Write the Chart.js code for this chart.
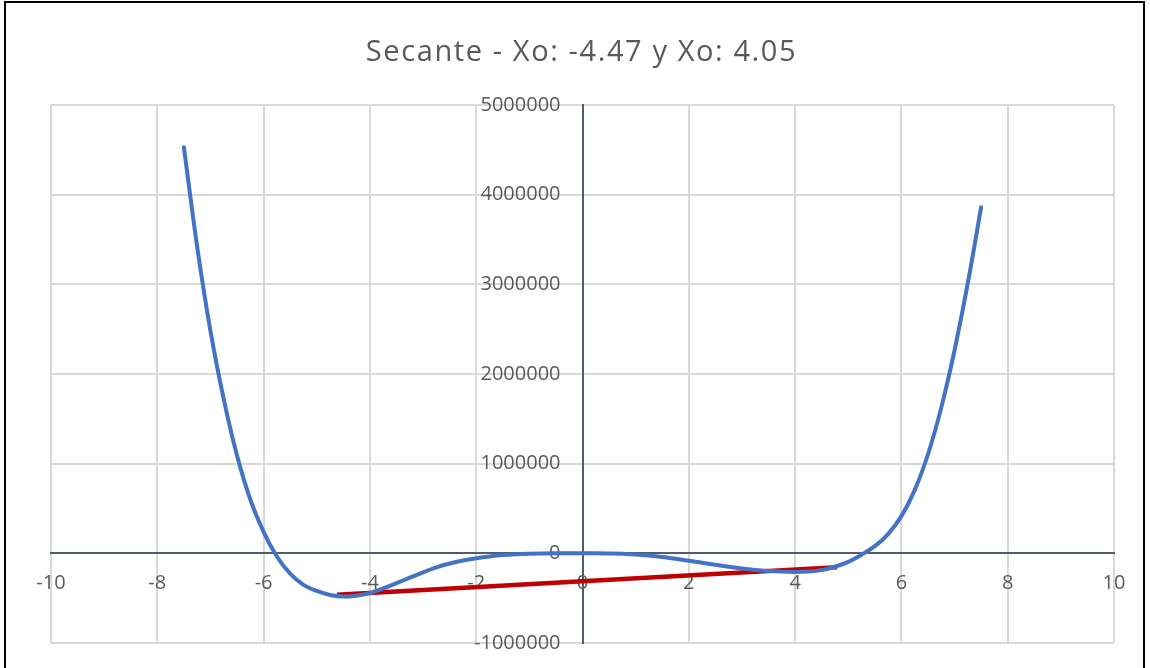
<!DOCTYPE html>
<html>
<head>
<meta charset="utf-8">
<title>Secante</title>
<script src="https://cdn.jsdelivr.net/npm/chart.js@4.4.1/dist/chart.umd.min.js"></script>
<style>
  html, body { margin: 0; padding: 0; background: #ffffff; }
  #wrap { position: relative; width: 1150px; height: 668px; overflow: hidden; background: #ffffff; }
  #frame { position: absolute; left: 4px; top: 1px; width: 1141px; height: 700px; border: 2px solid #000000; box-sizing: border-box; pointer-events: none; }
  canvas { position: absolute; left: 0; top: 0; }
</style>
</head>
<body>
<div id="wrap">
  <canvas id="chart" width="1150" height="668"></canvas>
  <div id="frame"></div>
</div>
<script>
// Function f(x), sampled every 0.25
const curveX = [-7.5, -7.25, -7.0, -6.75, -6.5, -6.25, -6.0, -5.75, -5.5, -5.25, -5.0, -4.75, -4.5, -4.25, -4.0, -3.75, -3.5, -3.25, -3.0, -2.75, -2.5, -2.25, -2.0, -1.75, -1.5, -1.25, -1.0, -0.75, -0.5, -0.25,
  0,
  0.25, 0.5, 0.75, 1.0, 1.25, 1.5, 1.75, 2.0, 2.25, 2.5, 2.75, 3.0, 3.25, 3.5, 3.75, 4.0, 4.25, 4.5, 4.75, 5.0, 5.25, 5.5, 5.75, 6.0, 6.25, 6.5, 6.75, 7.0, 7.25, 7.5];
const curveY = [4530000, 3420000, 2480000, 1720000, 1090000, 600000, 240000, -35000, -227000, -352000, -420000, -465000, -482000, -472000, -443000, -392000, -333000, -272000, -212000, -157000, -113000, -80000, -55000, -35000, -20000, -10000, -4000, -1000, 0, 0,
  0,
  0, -2000, -6000, -12000, -24000, -40000, -60000, -82000, -105000, -128000, -150000, -170000, -186000, -197000, -204000, -207000, -202000, -187000, -150000, -95000, -15000, 80000, 215000, 415000, 705000, 1105000, 1625000, 2265000, 3015000, 3860000];

// Secant line between the two endpoints
const secantX = [-4.62, 4.79];
const secantY = [-462000, -155000];

// Axis ticks
const xTicks = [-10, -8, -6, -4, -2, 0, 2, 4, 6, 8, 10];
const xTickLabels = ['-10', '-8', '-6', '-4', '-2', '0', '2', '4', '6', '8', '10'];
const yTicks = [-1000000, 0, 1000000, 2000000, 3000000, 4000000, 5000000];
const yTickLabels = ['-1000000', '0', '1000000', '2000000', '3000000', '4000000', '5000000'];

const titleText = 'Secante - Xo: -4.47 y Xo: 4.05';

const toPoints = (xs, ys) => xs.map((x, i) => ({ x: x, y: ys[i] }));

const textColor = '#595959';
const gridColor = '#d9d9d9';
const axisColor = '#505c70';
const fontFamily = '"Open Sans", "Noto Sans", sans-serif';

// Chart title, drawn centred above the plot area with a little letter spacing
const titlePlugin = {
  id: 'spacedTitle',
  afterDraw(chart) {
    const ctx = chart.ctx;
    const area = chart.chartArea;
    ctx.save();
    ctx.font = '29px ' + fontFamily;
    ctx.fillStyle = textColor;
    ctx.textAlign = 'center';
    ctx.textBaseline = 'alphabetic';
    if ('letterSpacing' in ctx) ctx.letterSpacing = '1.6px';
    ctx.fillText(titleText, (area.left + area.right) / 2 - 1, area.top - 44);
    ctx.restore();
  }
};

new Chart(document.getElementById('chart'), {
  type: 'scatter',
  data: {
    datasets: [
      {
        label: 'f(x)',
        data: toPoints(curveX, curveY),
        showLine: true,
        borderColor: '#4472c4',
        borderWidth: 4,
        borderCapStyle: 'round',
        borderJoinStyle: 'round',
        pointRadius: 0,
        pointHoverRadius: 0,
        cubicInterpolationMode: 'monotone',
        fill: false
      },
      {
        label: 'Secante',
        data: toPoints(secantX, secantY),
        showLine: true,
        borderColor: '#c00000',
        borderWidth: 4.5,
        pointRadius: 0,
        pointHoverRadius: 0,
        fill: false
      }
    ]
  },
  plugins: [titlePlugin],
  options: {
    responsive: false,
    animation: false,
    devicePixelRatio: 1,
    layout: { padding: { left: 51, right: 36, top: 105, bottom: 25 } },
    plugins: {
      legend: { display: false },
      tooltip: { enabled: false },
      title: { display: false }
    },
    scales: {
      x: {
        type: 'linear',
        min: -10,
        max: 10,
        position: { y: 0 },
        afterBuildTicks: (scale) => { scale.ticks = xTicks.map(v => ({ value: v })); },
        ticks: {
          color: textColor,
          font: { family: fontFamily, size: 20 },
          padding: 18,
          maxRotation: 0,
          autoSkip: false,
          callback: (value, index) => xTickLabels[index]
        },
        grid: { color: gridColor, lineWidth: 2, drawTicks: false },
        border: { display: true, color: axisColor, width: 2 }
      },
      y: {
        type: 'linear',
        min: -1000000,
        max: 5000000,
        position: 'center',
        afterBuildTicks: (scale) => { scale.ticks = yTicks.map(v => ({ value: v })); },
        afterFit: (scale) => { scale.paddingTop = 0; scale.paddingBottom = 0; },
        ticks: {
          color: textColor,
          font: { family: fontFamily, size: 20 },
          padding: 22,
          autoSkip: false,
          callback: (value, index) => yTickLabels[index]
        },
        grid: { color: gridColor, lineWidth: 2, drawTicks: false },
        border: { display: true, color: axisColor, width: 2 }
      }
    }
  }
});
</script>
</body>
</html>
